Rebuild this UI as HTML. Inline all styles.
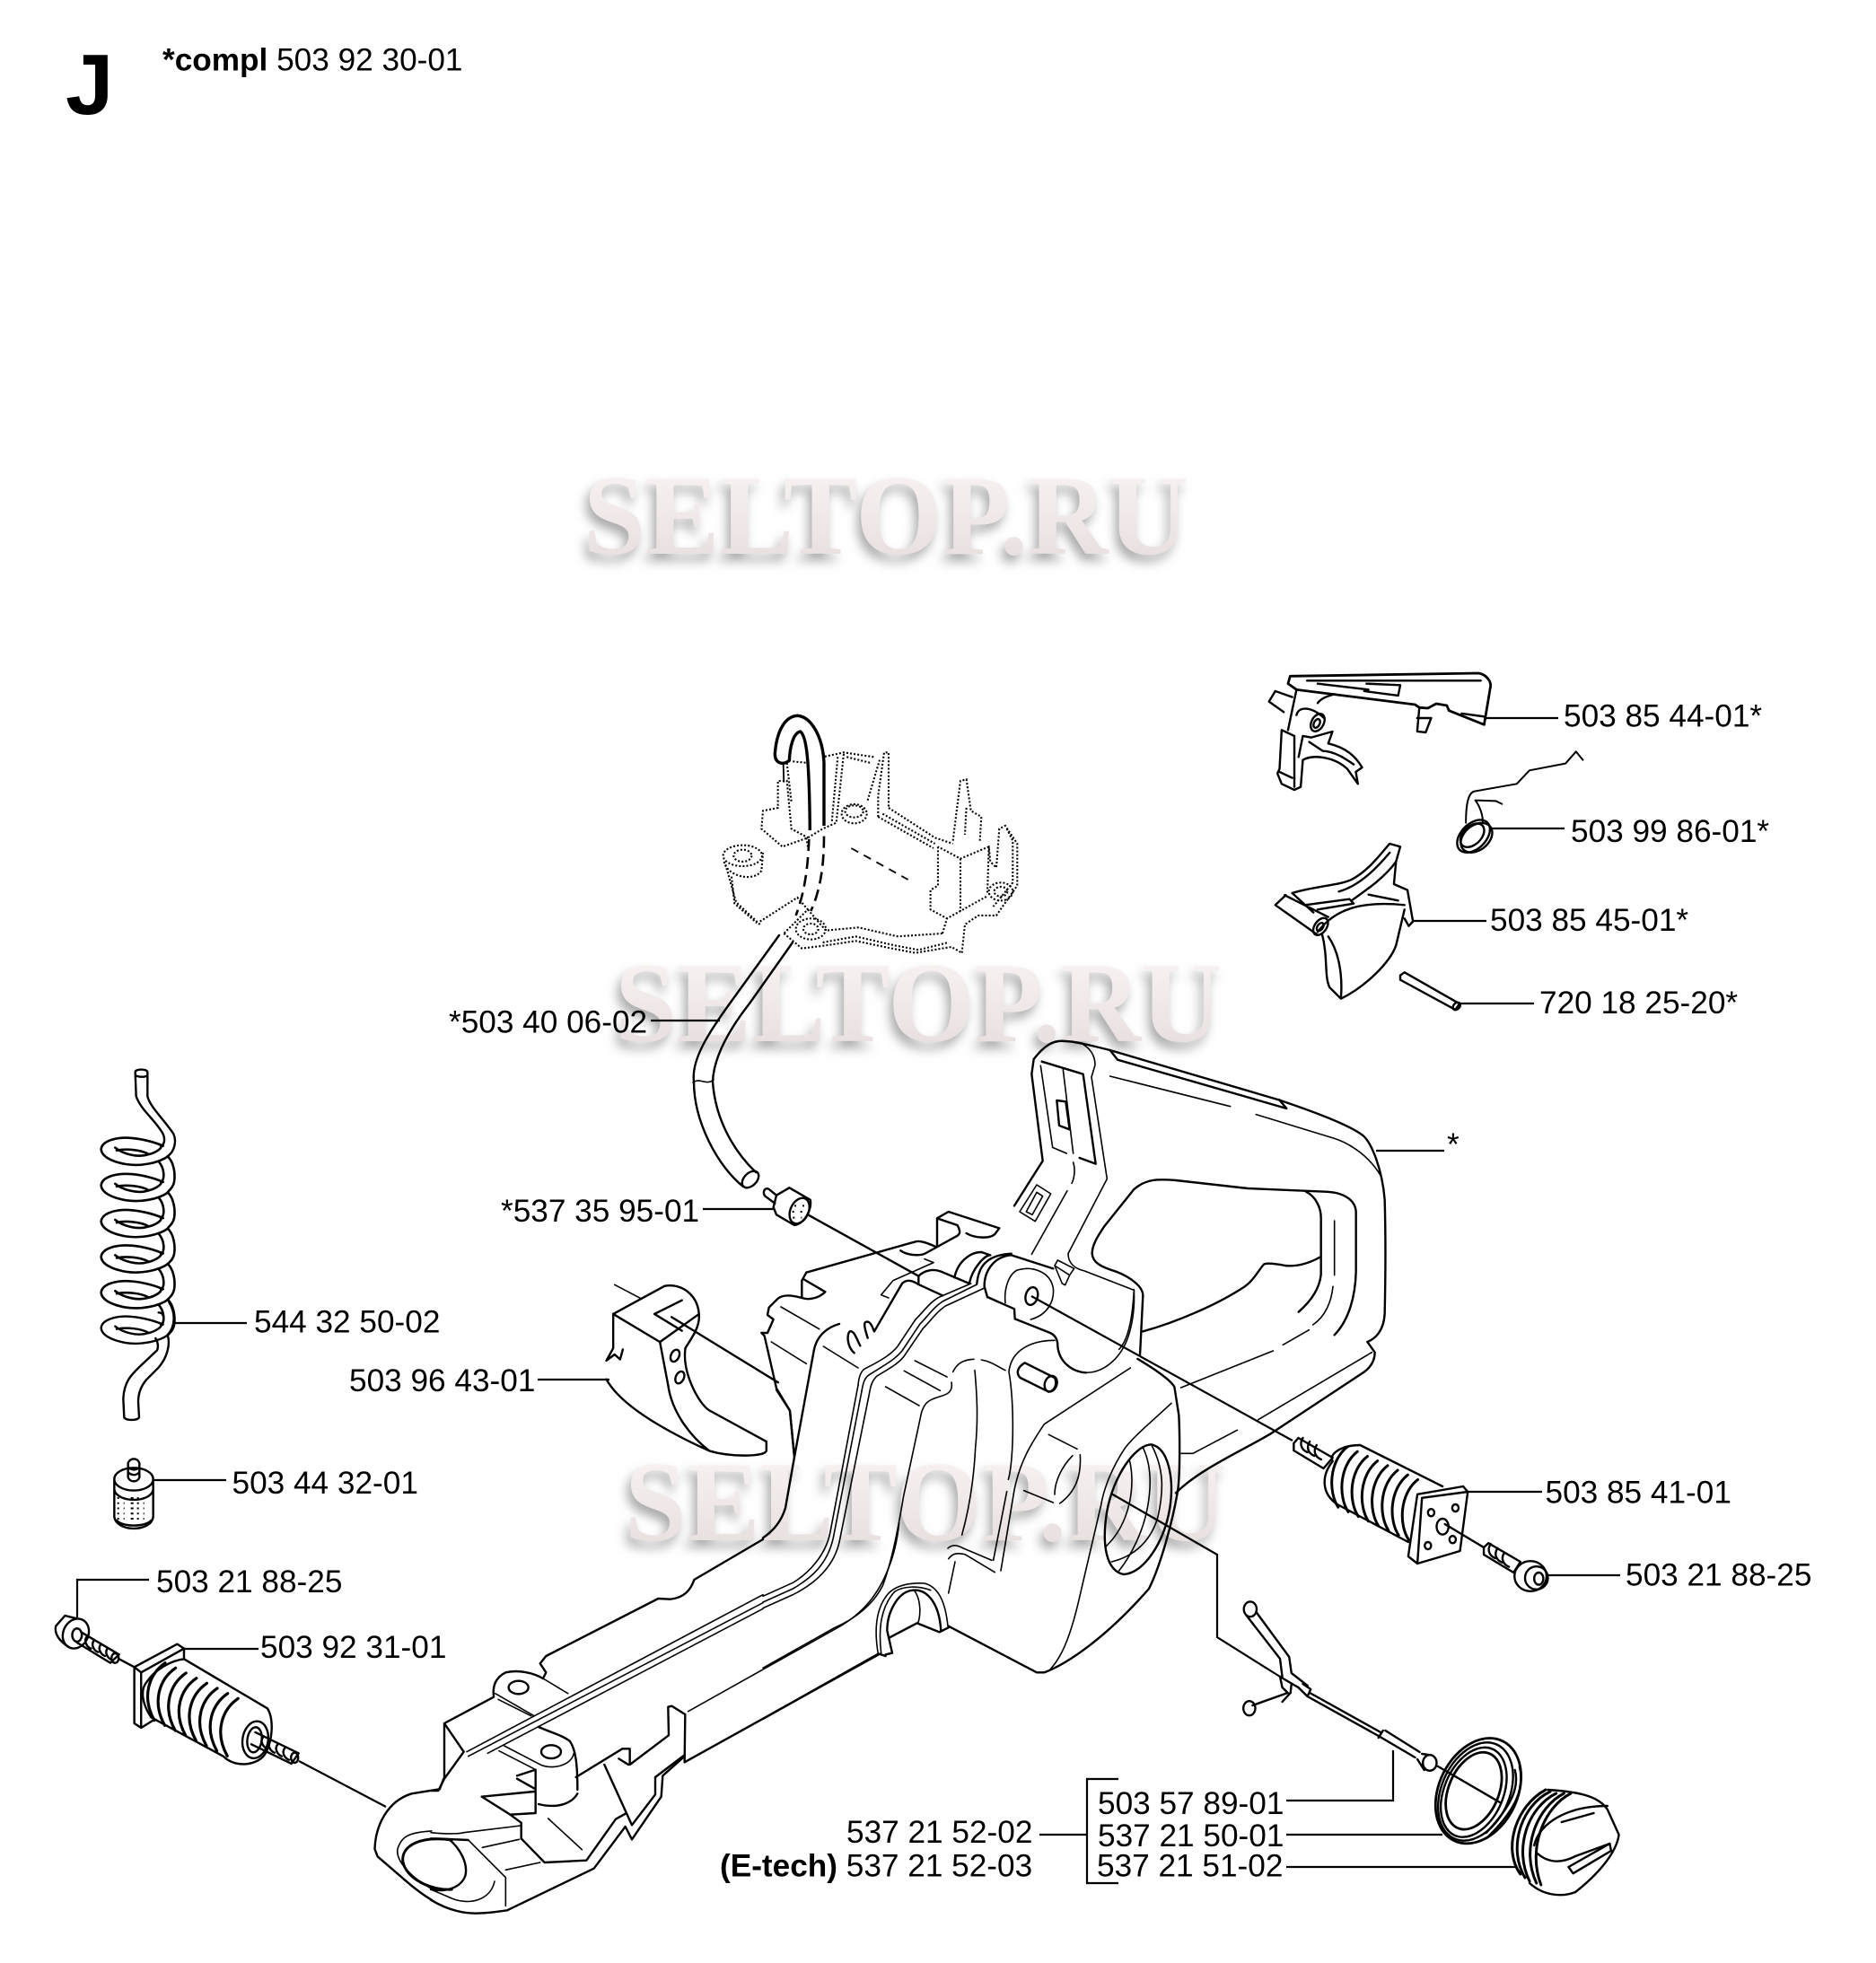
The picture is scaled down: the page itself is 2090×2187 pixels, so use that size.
<!DOCTYPE html>
<html><head><meta charset="utf-8"><style>
html,body{margin:0;padding:0;background:#fff}
svg{display:block}
svg *{vector-effect:non-scaling-stroke}
.t{font:35.2px "Liberation Sans",sans-serif;fill:#000}
.b{font-weight:bold}
.w{font:bold 127px "Liberation Serif",serif;fill:url(#wg);filter:url(#ws)}
.l{fill:none;stroke:#000;stroke-width:2.4;stroke-linejoin:round;stroke-linecap:round}
.ln{fill:none;stroke:#000;stroke-width:2.2}
.th{stroke-width:1.6}
.d{fill:none;stroke:#000;stroke-width:2.1;stroke-dasharray:2 2.1}
</style></head><body>
<svg xmlns="http://www.w3.org/2000/svg" width="2090" height="2187" viewBox="0 0 2090 2187">
<defs>
<linearGradient id="wg" x1="0" y1="0" x2="0" y2="1"><stop offset="0" stop-color="#fbf5f5"/><stop offset="1" stop-color="#e4dcdb"/></linearGradient>
<filter id="ws" x="-10%" y="-30%" width="120%" height="170%"><feDropShadow dx="-4" dy="8" stdDeviation="6" flood-color="#8a8a8a" flood-opacity=".75"/></filter>
<path id="rib6" d="M345,338C305,375 285,450 318,530" fill="none" stroke="#000" stroke-width="3.2"/>
<path id="rib7" d="M492,130C452,170 450,255 472,298" fill="none" stroke="#000" stroke-width="3"/>
<g id="turn" fill="none" stroke="#000" stroke-width="2.6">
<path d="M412,335C380,355 320,365 270,358C220,350 190,335 188,315C190,290 240,278 290,282C330,285 370,295 395,305"/>
<path d="M235,310C260,328 310,340 345,330C370,325 392,312 388,305"/>
<path d="M240,318C270,312 320,316 345,328"/>
<path d="M410,335C430,350 437,385 432,410C428,425 420,430 412,438"/>
<path d="M380,350C400,370 402,400 388,412"/>
</g>
</defs>

<text class="w" x="650" y="617" textLength="674" lengthAdjust="spacingAndGlyphs">SELTOP.RU</text>
<text class="w" x="685" y="1160" textLength="676" lengthAdjust="spacingAndGlyphs">SELTOP.RU</text>
<text class="w" x="696" y="1716" textLength="670" lengthAdjust="spacingAndGlyphs">SELTOP.RU</text>

<text x="73" y="127" style="font:bold 96px 'Liberation Sans',sans-serif">J</text>
<text class="t" x="181" y="78.5"><tspan class="b">*compl</tspan> 503 92 30-01</text>

<text class="t" x="1742" y="809.5">503 85 44-01*</text>
<text class="t" x="1750" y="938">503 99 86-01*</text>
<text class="t" x="1660" y="1037">503 85 45-01*</text>
<text class="t" x="1715" y="1129">720 18 25-20*</text>
<text class="t" x="1612" y="1287">*</text>
<text class="t" x="500" y="1150.5">*503 40 06-02</text>
<text class="t" x="558" y="1361">*537 35 95-01</text>
<text class="t" x="283" y="1484.5">544 32 50-02</text>
<text class="t" x="389" y="1550">503 96 43-01</text>
<text class="t" x="258.5" y="1664">503 44 32-01</text>
<text class="t" x="174" y="1774">503 21 88-25</text>
<text class="t" x="290" y="1847">503 92 31-01</text>
<text class="t" x="1721.5" y="1674.5">503 85 41-01</text>
<text class="t" x="1811" y="1766.5">503 21 88-25</text>
<text class="t" x="1223" y="2021">503 57 89-01</text>
<text class="t" x="1223" y="2057">537 21 50-01</text>
<text class="t" x="1222" y="2090.5">537 21 51-02</text>
<text class="t" x="943" y="2053">537 21 52-02</text>
<text class="t" x="802" y="2090.5"><tspan class="b">(E-tech)</tspan> 537 21 52-03</text>

<!-- leaders -->
<g class="ln">
<path d="M1654,800H1736M1661,923H1743M1574,1026H1656M1626,1118H1709M1533,1282H1609"/>
<path d="M725,1137H802M783,1347H862M195,1474H275M599,1537H679M172,1649H252"/>
<path d="M86,1802V1760H166M205,1837H288M1635,1662H1718M1724,1755H1805"/>
<path d="M1552,1950V2006H1433M1433,2044H1607M1433,2080H1689"/>
<path d="M1158,2044H1210M1246,1982H1211V2098H1246"/>
<path d="M1149,1444L1440,1605M1238,1664L1356,1732V1824L1426,1868"/>
<path d="M333,1962L430,2013"/>
</g>

<!-- crop A: top of body, filter -->
<g transform="translate(840,1150) scale(.33333)" class="l">
<path d="M820,655L650,600L612,622L612,715M612,622L680,645C690,665 690,672 680,680L575,738C555,750 510,745 490,730M710,672C740,690 790,690 805,675L820,655"/>
<path d="M540,700C555,695 580,705 610,718M175,803L540,700M175,803L160,830L160,888M165,825L238,868C220,885 190,898 160,888C130,880 100,875 80,890L50,920L45,945L65,960L45,1005L25,1005L35,1015L75,1190L120,1265L135,1420M285,975C250,985 210,1010 200,1065L135,1420"/>
<path class="th" d="M90,918L218,992M58,1035L175,1108M232,1050L348,1122"/>
<path d="M335,1072C310,1050 310,1010 320,1000C335,995 345,1030 355,1048M380,1022C370,990 365,970 375,968C390,965 395,985 402,1000M402,1000L495,840C510,825 530,830 548,842L630,880M550,842L550,815C570,795 600,790 625,800L720,840"/>
<path class="th" d="M425,878L450,888M425,878L465,830L600,770L570,758"/>
<path d="M180,610L550,815"/>
<path d="M75,545L118,520L188,560C195,590 170,640 135,645L75,610L65,585Z"/>
<ellipse cx="152" cy="597" rx="30" ry="45" transform="rotate(25 152 597)"/>
<path d="M135,580H175M128,600H172M130,620H160" stroke-width="2" stroke-dasharray="2 7" stroke-linecap="butt"/>
<path d="M75,545L50,525C35,515 25,540 40,550L70,572"/>
<path class="th" d="M1000,855C990,800 930,780 880,795C850,810 835,860 840,905M1000,855C1005,900 980,945 925,960"/>
<ellipse cx="928" cy="882" rx="20" ry="30" transform="rotate(15 928 882)"/>
<path d="M770,848C770,800 800,750 860,745L1000,790M745,840C750,790 770,745 860,740M720,838C730,790 770,745 790,745M670,820C680,770 720,735 760,735L790,745"/>
<path d="M770,850L780,885L870,925L872,958L990,1005C1010,1015 1015,1030 1015,1050C1020,1100 1060,1135 1110,1138"/>
<path class="th" d="M1110,1138C1170,1138 1225,1090 1250,1020C1270,960 1272,900 1270,860"/>
<path class="th" d="M1005,780L1015,762L1070,790L1055,812ZM1005,780L1030,840L1040,845L1055,812"/>
<path d="M888,600L945,510L992,540L940,632ZM910,600L945,535L965,548L930,610Z" class="th"/>
<path class="th" d="M725,840L620,885C590,900 570,930 540,960L480,1050C460,1075 430,1095 370,1125C355,1135 350,1155 348,1180"/>
<path class="th" d="M745,843L630,900C600,920 580,950 555,975L495,1065C470,1095 440,1110 385,1145C370,1155 365,1170 360,1200"/>
<path class="th" d="M770,855L640,915C610,935 590,965 565,990L500,1085C480,1110 450,1125 410,1150C395,1165 390,1180 385,1210"/>
</g>

<!-- crop B: handle -->
<g transform="translate(1130,1150) scale(.33333)" class="l">
<path d="M170,30C130,25 100,45 65,90L58,140L95,430L0,580"/>
<path d="M170,30C200,30 260,45 320,60L880,225C1000,265 1120,310 1165,345C1195,370 1230,460 1238,560C1242,700 1240,850 1238,940C1235,1000 1205,1025 1180,1035L1205,1070C1205,1100 1190,1120 1170,1135L860,1340C760,1400 620,1460 540,1540"/>
<path class="th" d="M220,35C250,50 270,75 270,110L258,150L310,490L180,740C180,770 200,790 235,798L400,862C395,960 380,1030 350,1060"/>
<path d="M92,98L230,140L272,440L218,420"/>
<path class="th" d="M88,112L128,385L175,405M163,125L197,405M197,435C205,460 200,490 192,505M177,530L58,742"/>
<path d="M142,228L172,232L185,325L150,312Z"/>
<path d="M320,60L345,92L910,255L885,225"/>
<path class="th" d="M320,147L722,248M808,275L1070,355C1130,375 1190,420 1225,480"/>
<path d="M260,740C260,710 280,680 300,650L400,525C440,490 480,490 540,495L780,522L1040,533C1100,535 1140,560 1142,600L1142,800C1140,880 1120,960 1070,1012"/>
<path d="M975,533C1010,550 1025,590 1025,620L1025,810C1020,860 990,900 950,935M1025,750C990,770 950,785 905,780C880,775 850,770 835,775C820,790 800,830 770,850C680,910 540,970 430,1000"/>
<path d="M260,740C262,770 290,785 340,800C390,820 430,850 430,880L420,1080"/>
<path class="th" d="M1070,630L1070,812M1065,850C1060,900 1040,950 998,978M985,995L898,1045M865,1065L557,1188M1195,1070L815,1295M745,1330L597,1408L558,1408"/>
</g>

<!-- crop C: tank -->
<g transform="translate(850,1480) scale(.33333)" class="l">
<path d="M45,205L90,275L105,430L75,600C60,650 30,680 0,700"/>
<path d="M875,115L975,165C985,185 975,210 955,212L860,165C845,150 850,130 875,115Z"/>
<ellipse cx="962" cy="185" rx="20" ry="27" transform="rotate(20 962 185)"/>
<path class="th" d="M318,190L225,680C210,760 150,820 100,850L0,895M330,210L235,700C215,790 160,835 100,870L0,915M355,220L255,715C235,800 170,855 100,890L0,935"/>
<path class="th" d="M975,40C900,40 830,70 822,145C830,190 835,260 835,330C835,400 830,470 820,505M815,545L770,775M795,810L840,540C860,440 900,380 940,320L1228,132"/>
<path class="th" d="M1365,250C1290,320 1240,360 1210,400C1170,460 1140,530 1130,590L1060,890C1040,980 1020,1040 1000,1080C985,1110 970,1130 955,1145"/>
<path d="M620,995L915,1150L940,1150C1020,1120 1150,1030 1290,870C1330,790 1370,640 1385,550C1395,500 1393,350 1390,290L1375,195C1360,170 1300,130 1252,102"/>
<path d="M1298,388C1240,390 1170,500 1150,610C1130,730 1150,810 1205,822C1270,820 1340,720 1360,600C1375,500 1355,400 1298,388Z"/>
<path class="th" d="M1270,398C1295,450 1300,520 1285,600C1270,680 1230,760 1190,810M1300,392C1340,470 1340,540 1320,630C1300,700 1250,760 1165,780M1225,440C1245,520 1230,650 1145,730"/>
<path class="th" d="M708,140C715,220 720,300 710,400C705,500 690,600 665,690M730,105C760,110 780,125 810,140M635,145C650,115 670,105 705,103M508,108L615,162M472,142L592,208M410,195L522,258"/>
<path class="th" d="M630,180C635,210 620,220 590,228C550,240 540,250 530,280L470,560C450,680 430,780 400,860C370,920 310,970 240,1000L0,1135"/>
<path class="th" d="M618,735C635,720 650,725 670,735L765,775M620,770C635,750 650,750 675,755L775,815M642,780L620,885"/>
<path class="th" d="M955,355L1050,403M1035,425C1000,460 975,510 975,555M1060,422C1065,500 1040,550 992,585M872,542L970,582"/>
<path class="th" d="M385,1088C370,1000 380,930 420,885C450,855 500,850 540,852C590,865 610,920 618,995M395,1085C385,1000 395,930 440,880C470,860 520,860 560,875"/>
<path class="th" d="M518,985C530,950 525,900 505,875"/>
<path d="M410,1090L432,1085L415,1010C415,950 450,880 500,875C550,870 590,920 595,1012M420,1035L515,985L590,1015L620,1000M385,1088L0,1305M388,1088L410,1095"/>
</g>

<!-- crop D: rear middle -->
<g transform="translate(480,1680) scale(.33333)" class="l">
<path d="M1110,105L880,240C870,270 850,300 800,305L760,303L385,495L365,520L385,550L375,570"/>
<path class="th" d="M1110,290L120,815M1110,317L125,830M1110,337L190,820"/>
<path d="M375,570C340,550 290,540 250,550C220,565 205,590 210,630"/>
<ellipse cx="293" cy="600" rx="33" ry="22"/>
<path class="th" d="M215,620L345,695M225,640L335,695M375,570L458,620"/>
<path d="M210,632L45,720L45,905M45,720L110,815L45,905L25,945L0,945"/>
<path d="M360,732C400,750 440,760 465,780C485,810 490,860 490,942"/>
<ellipse cx="402" cy="815" rx="33" ry="22"/>
<path class="th" d="M245,795L370,860C410,875 470,860 478,820M228,812L345,872"/>
<path d="M490,955C470,990 420,1005 360,990M485,900L640,805L665,805L665,858L795,760L793,665L805,662L850,690L848,850M628,838L660,858"/>
<path class="th" d="M860,680L1360,400C1450,350 1500,280 1530,200C1550,150 1560,100 1565,50"/>
<path d="M848,850L1500,488"/>
<path d="M848,830L775,895L770,965L672,1108L650,1065L545,1205L255,1345C220,1350 190,1355 150,1355C100,1355 50,1340 0,1310"/>
<path d="M845,828L750,900L750,958L672,1060L580,858"/>
<path d="M650,1022L618,1040L520,1178L380,1185L302,1105L302,1052L265,1025L170,965L345,948M265,1025L350,1020L350,875L288,895M288,905L350,940"/>
<path class="th" d="M392,1038L505,1142M0,1085C50,1090 90,1090 110,1085L300,1062M172,1135L295,1108M250,1210L365,1185M213,1248C200,1310 130,1330 70,1305L0,1275M125,1110L250,1235L250,1330"/>
<path d="M0,1105L60,1107L125,1110M60,1107C100,1140 125,1190 115,1230C100,1270 50,1285 0,1275"/>
</g>

<!-- brake block -->
<g transform="translate(400,1100) scale(.7653,.6932)" class="l">
<path d="M372,478L410,500" class="th"/>
<path d="M370,525L445,480C470,475 495,495 495,530C495,550 480,570 475,580M370,525L438,570L495,525M430,525L470,503M430,525L470,552"/>
<path d="M370,525L370,580L360,600L372,590L380,598L384,582M360,630C380,670 440,710 510,745C540,755 590,755 593,745L593,730L510,680C495,670 470,620 475,580M438,570L450,640C455,680 480,720 510,745"/>
<ellipse cx="460" cy="592" rx="6" ry="10" transform="rotate(20 460 592)"/>
<ellipse cx="467" cy="627" rx="6" ry="10" transform="rotate(20 467 627)"/>
<path d="M455,530L610,635"/>
</g>

<!-- tube -->
<g class="l">
<path d="M868,1042L813,1118C790,1150 770,1180 773,1205C773,1250 800,1300 828,1322M883,1050L835,1118C810,1150 795,1180 794,1205C797,1250 820,1285 842,1306"/>
<ellipse cx="836" cy="1314" rx="7" ry="11" transform="rotate(45 836 1314)"/>
<path d="M772,1206C780,1200 786,1210 795,1203" class="th"/>
</g>

<!-- bracket and hook -->
<g transform="translate(740,760) scale(.3333)">
<g class="d">
<ellipse cx="262" cy="580" rx="65" ry="35"/><ellipse cx="262" cy="580" rx="30" ry="20"/>
<path d="M200,600C210,650 300,670 325,630L330,570M205,610L240,735L320,810M225,650L235,740L310,805"/>
<path d="M320,800L445,720L480,760L400,840M400,840L460,890L540,880L640,865L760,890L840,905L960,885L995,905M480,760L540,830L650,820L780,850L930,840M530,870L640,850L770,880L850,895L950,870"/>
<path d="M930,840L945,790L1080,715M995,905L1005,810L1050,780L1110,780L1180,680L1180,540L1140,480L1120,490L1110,620L1090,600L1085,550L990,590L915,550"/>
<path d="M1145,490L1165,530L1165,670L1100,750M915,550L915,680L890,695L890,760L945,790M990,590L990,765M1085,550L1080,710"/>
<path d="M965,530L990,330L1010,325L1025,430L1060,450L1055,530M1010,420L1005,510"/>
<path d="M750,420L905,520L965,540M715,450L900,555M730,440L905,540"/>
<path d="M715,450L715,380L735,235L750,235L750,420M680,395L720,260M700,250L600,235L530,250M610,250L690,270"/>
<path d="M600,240L575,470L530,490L480,520L395,550L325,490L330,430L380,420L380,330L410,330L425,490L480,520M580,250L560,470M410,270L425,400M430,265L480,270M475,520L480,550"/>
<ellipse cx="635" cy="440" rx="42" ry="32"/><ellipse cx="635" cy="432" rx="30" ry="20"/>
<ellipse cx="1125" cy="700" rx="40" ry="30"/><ellipse cx="1125" cy="700" rx="22" ry="16"/>
<ellipse cx="490" cy="825" rx="50" ry="35"/><ellipse cx="490" cy="825" rx="25" ry="18"/>
</g>
<path d="M625,555L815,660" fill="none" stroke="#000" stroke-width="1.8" stroke-dasharray="9 7"/>
<g fill="none" stroke="#000" stroke-width="3.4">
<path d="M534,480L534,270C530,180 490,115 445,112C400,115 375,170 370,240C370,270 395,280 418,262C420,220 430,170 455,165C475,180 485,250 487,495"/>
<path d="M398,275L400,335" stroke-width="1.8"/>
<path d="M484,525C480,620 470,700 440,780M534,515C534,620 520,700 490,765" stroke-width="2.6" stroke-dasharray="13 7"/>
</g>
</g>

<!-- right top parts -->
<g transform="translate(1350,720) scale(.4719,.3333)" class="l">
<path d="M185,100L630,90C650,95 660,120 658,135L643,262L560,215L555,198L530,192L510,207L490,205L480,195L200,145L180,125Z" stroke-width="2.8"/>
<path d="M225,115L635,115M250,125L370,145M365,125L445,130L440,165L360,150M590,225L643,235"/>
<path d="M200,145L180,280M165,280L160,410L155,425L165,460L195,480L210,470L215,380C240,360 290,370 320,410L345,460L340,420L355,405C340,370 320,340 275,325L285,285L235,305L215,300L205,370M165,280L195,300L195,470M160,420L190,440M230,320L262,350C290,350 320,380 335,395"/>
<path d="M490,205L485,285L505,288L518,240L485,240"/>
<path d="M150,150L135,185L170,220M150,150L190,170"/>
<ellipse cx="250" cy="255" rx="15" ry="30" transform="rotate(15 250 255)"/>
<ellipse cx="248" cy="258" rx="7" ry="15" transform="rotate(15 248 258)"/>
<path d="M200,230C205,200 235,200 265,240M250,190C260,170 280,165 290,160"/>
<ellipse cx="618" cy="635" rx="33" ry="58" transform="rotate(25 618 635)"/>
<ellipse cx="625" cy="640" rx="33" ry="52" transform="rotate(25 625 640)"/>
<ellipse cx="615" cy="632" rx="24" ry="42" transform="rotate(25 615 632)"/>
<path d="M600,590C600,530 605,490 620,485L720,460L750,415L835,392L860,352L876,380M640,590C640,550 625,520 622,515L670,517L685,527" stroke-width="2"/>
<path d="M260,960C275,1040 265,1100 278,1140L305,1178C360,1140 420,1060 435,1000L455,880"/>
<path d="M250,955C290,880 350,850 455,865M275,970C295,1010 310,1080 305,1175"/>
<path d="M190,825C250,800 300,800 330,780C370,750 395,700 420,660L445,670L440,695L435,720L430,795L462,815L475,920L465,935L455,910"/>
<path d="M175,832L150,865L250,965M172,832L275,905M220,865L325,845L335,860L250,880M190,825L240,890M300,820C350,800 390,740 420,690M330,850C370,810 410,770 435,720M370,830L440,850"/>
<ellipse cx="257" cy="937" rx="15" ry="30" transform="rotate(20 257 937)"/>
<ellipse cx="256" cy="938" rx="7" ry="14" transform="rotate(20 256 938)"/>
<path d="M445,1115L445,1100L455,1090L585,1195L575,1215Z"/>
<ellipse cx="578" cy="1203" rx="8" ry="13" transform="rotate(20 578 1203)"/>
</g>

<!-- fuel coil and filter -->
<g transform="translate(50,1160) scale(.3333,.3827)" class="l">
<path d="M302,90C302,80 342,80 343,90L343,160C350,190 400,230 430,270C440,290 435,320 410,335M302,90L305,160C320,200 370,230 395,270C405,290 395,305 388,305M304,100C315,105 335,105 342,100"/>
<use href="#turn"/>
<use href="#turn" y="105"/>
<use href="#turn" y="210"/>
<use href="#turn" y="313"/>
<use href="#turn" y="417"/>
<path d="M412,855C380,875 320,885 270,878C220,870 190,855 188,835C190,810 240,798 290,802C330,805 370,815 395,825M235,830C260,848 310,860 345,850C370,845 392,832 388,825M240,838C270,832 320,836 345,848M410,855C420,880 410,920 380,950L340,985C325,1000 312,1020 312,1050L315,1095C310,1105 270,1105 265,1095L262,1040C265,990 290,970 320,945L375,900C380,890 378,875 370,865M380,790C400,790 402,815 388,825M415,760C437,790 437,830 410,855"/>
<ellipse cx="297" cy="1275" rx="65" ry="33"/>
<path d="M232,1275V1385C240,1430 355,1430 362,1385V1275M232,1305C240,1345 355,1345 362,1305M240,1395C260,1415 335,1415 355,1395"/>
<path d="M278,1270V1228C285,1212 310,1212 316,1228V1270C310,1285 285,1285 278,1270M278,1240C290,1250 305,1250 316,1240M278,1255C290,1265 305,1265 316,1255"/>
<path d="M242,1330H352M242,1345H352M242,1360H352M242,1375H352M242,1390H352" stroke-width="2" stroke-dasharray="2 5 1 7 3 4" stroke-linecap="butt"/>
</g>

<!-- rear end, left screw, spring -->
<g transform="translate(30,1740) scale(.4464,.3333)" class="l">
<path d="M1040,725L1030,760L960,775C900,800 870,880 868,960L875,985L940,1060C970,1095 990,1115 1010,1130"/>
<path d="M1010,900C950,905 935,920 925,960C920,1000 960,1060 1020,1100" class="th"/>
<path d="M1060,930C980,915 935,950 938,1000C945,1060 1010,1100 1060,1095" stroke-width="3"/>
<!-- left screw -->
<path d="M95,180L72,215C68,240 80,265 105,285M95,180L125,190"/>
<ellipse cx="122" cy="240" rx="32" ry="50" transform="rotate(10 122 240)"/>
<ellipse cx="125" cy="245" rx="12" ry="22"/>
<path d="M135,235L230,310L208,338L125,270M150,250C140,265 150,285 160,290M168,262C158,278 168,298 178,302M185,275C175,290 185,310 195,315M202,288C192,303 202,323 212,328"/>
<ellipse cx="220" cy="322" rx="9" ry="16"/>
<path d="M230,325L268,352"/>
<!-- plate -->
<path d="M268,352L375,275L392,290V325M268,352V540L285,555L315,530M285,370V555M268,352L285,370L392,290"/>
<path d="M392,325L600,490C620,530 610,620 590,650C570,680 520,690 490,650L310,520C290,480 280,430 300,400C320,360 360,330 392,325Z"/>
<use href="#rib6"/><use href="#rib6" x="26" y="17"/><use href="#rib6" x="52" y="34"/><use href="#rib6" x="78" y="51"/><use href="#rib6" x="104" y="68"/><use href="#rib6" x="130" y="85"/><use href="#rib6" x="156" y="102"/><use href="#rib6" x="182" y="119"/>
<ellipse cx="570" cy="595" rx="32" ry="62" transform="rotate(5 570 595)"/>
<ellipse cx="568" cy="595" rx="18" ry="42" transform="rotate(5 568 595)"/>
<path d="M570,570L678,640L660,675L560,610M590,585C580,600 590,620 600,625M608,598C598,613 608,633 618,638M626,610C616,625 626,645 636,650M644,622C634,637 644,657 654,662"/>
<ellipse cx="668" cy="655" rx="9" ry="17"/>
</g>

<!-- right spring, screw, cable, cap -->
<g transform="translate(1250,1560) scale(.5102,.4)" class="l">
<path d="M375,120L385,105L460,160L440,190L375,140Z"/>
<path d="M395,105C385,125 395,140 405,145M410,115C400,135 410,150 420,155M425,125C415,145 425,160 435,165"/>
<path d="M520,125L700,240M470,290L625,395M460,170C450,150 480,125 520,125M460,170C435,210 435,260 470,290"/>
<use href="#rib7"/><use href="#rib7" x="22" y="13"/><use href="#rib7" x="44" y="26"/><use href="#rib7" x="66" y="39"/><use href="#rib7" x="88" y="52"/><use href="#rib7" x="110" y="65"/><use href="#rib7" x="132" y="78"/><use href="#rib7" x="154" y="91"/>
<path d="M645,262L745,240L755,255L738,420L645,455L625,435L645,262ZM655,272L755,255M655,272L645,455"/>
<ellipse cx="675" cy="313" rx="7" ry="10"/><ellipse cx="728" cy="300" rx="7" ry="10"/><ellipse cx="668" cy="405" rx="7" ry="10"/><ellipse cx="722" cy="388" rx="7" ry="10"/>
<ellipse cx="700" cy="352" rx="13" ry="22"/>
<path d="M705,345L790,410"/>
<path d="M790,410L800,398L870,450L855,480L790,430ZM805,400C795,420 805,435 815,440M820,412C810,432 820,447 830,452M835,424C825,444 835,459 845,464"/>
<ellipse cx="892" cy="490" rx="35" ry="42"/>
<ellipse cx="905" cy="495" rx="25" ry="32"/>
<ellipse cx="910" cy="497" rx="10" ry="17"/>
<ellipse cx="280" cy="582" rx="14" ry="21"/>
<path d="M272,600L345,720L350,770M293,590L365,715L370,760L405,795M345,770L350,800L362,815L285,850M350,840L368,815L370,790M345,770L385,800L405,825L412,805L395,790"/>
<ellipse cx="278" cy="858" rx="13" ry="20"/>
<path d="M410,815L565,925M405,825L560,935"/>
<path d="M575,920L650,980M560,935L640,995M570,920L560,940"/>
<ellipse cx="672" cy="1010" rx="15" ry="22"/>
<path d="M655,985L672,988M645,1000L660,1030"/>
<path d="M690,1020L825,1120"/>
<ellipse cx="778" cy="1088" rx="88" ry="150" transform="rotate(15 778 1088)" stroke-width="2.8"/>
<ellipse cx="772" cy="1090" rx="76" ry="140" transform="rotate(15 772 1090)"/>
<ellipse cx="768" cy="1092" rx="66" ry="128" transform="rotate(15 768 1092)"/>
<ellipse cx="768" cy="1088" rx="56" ry="110" transform="rotate(15 768 1088)" stroke-width="2.8"/>
<path d="M868,1020C880,1080 860,1140 800,1215M858,1030C868,1080 850,1130 795,1205"/>
<path d="M925,1085C860,1130 830,1250 870,1320M935,1090C870,1130 842,1250 880,1330M948,1095C885,1135 855,1250 890,1340M965,1095C905,1135 870,1250 905,1345M980,1095C920,1135 885,1250 915,1350" stroke-width="3"/>
<path d="M930,1085C990,1090 1040,1100 1060,1140L1085,1210C1080,1260 1040,1320 990,1370C960,1385 920,1380 890,1345"/>
<path d="M900,1240C910,1180 970,1130 1060,1130M905,1260C930,1290 960,1290 990,1270L1065,1235"/>
<path d="M975,1300L1065,1235L1068,1255L985,1318Z"/>
<path d="M960,1175L1030,1150"/>
</g>
</svg>
</body></html>
